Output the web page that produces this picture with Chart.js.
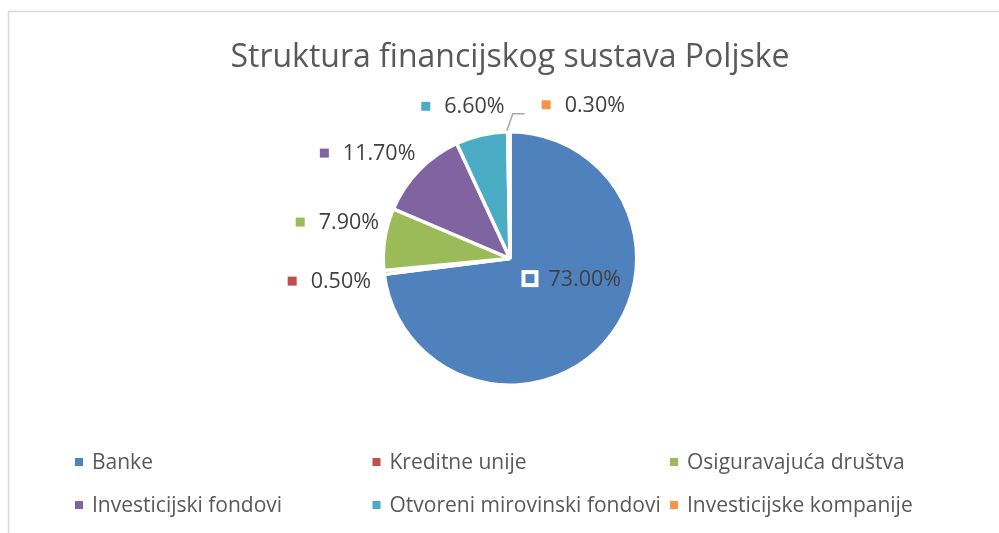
<!DOCTYPE html>
<html>
<head>
<meta charset="utf-8">
<script src="https://cdn.jsdelivr.net/npm/chart.js@4"></script>
<style>
  html, body { margin: 0; padding: 0; background: #fff; }
  #wrap { width: 999px; height: 533px; }
</style>
</head>
<body>
<div id="wrap"><canvas id="pieChart" width="999" height="533"></canvas></div>
<script>
// data
const categories = ['Banke', 'Kreditne unije', 'Osiguravajuća društva', 'Investicijski fondovi', 'Otvoreni mirovinski fondovi', 'Investicijske kompanije'];
const shares = [73.0, 0.5, 7.9, 11.7, 6.6, 0.3];
const sliceColors = ['#4F81BD', '#C0504D', '#9BBB59', '#8064A2', '#4BACC6', '#F79646'];
const chartTitle = 'Struktura financijskog sustava Poljske';

const FONT = '"Open Sans", "Noto Sans", sans-serif';

// label nudges (layout only), in px from the default anchor
const labelNudge = { 0: [9, -26], 1: [-5, 3], 2: [2, -9], 3: [-16, 19], 4: [-9, 22], 5: [73, 25] };
const leaderFor = { 5: true };

// frame + title
const framePlugin = {
  id: 'frame',
  beforeDraw(chart) {
    const ctx = chart.ctx;
    ctx.save();
    ctx.fillStyle = '#fff';
    ctx.fillRect(0, 0, chart.width, chart.height);
    ctx.strokeStyle = '#d9d9d9';
    ctx.lineWidth = 1.5;
    ctx.strokeRect(8.5, 11.5, chart.width + 20, chart.height + 20);
    ctx.fillStyle = '#595959';
    ctx.font = '32px ' + FONT;
    ctx.textAlign = 'center';
    ctx.textBaseline = 'middle';
    ctx.fillText(chartTitle, 510, 58);
    ctx.restore();
  }
};

// data labels with a colour square in front
const sliceLabels = {
  id: 'sliceLabels',
  afterDatasetsDraw(chart) {
    const ctx = chart.ctx;
    const meta = chart.getDatasetMeta(0);
    ctx.save();
    ctx.font = '21.5px ' + FONT;
    ctx.textBaseline = 'middle';
    meta.data.forEach((arc, i) => {
      const p = arc.getProps(['x', 'y', 'startAngle', 'endAngle', 'outerRadius'], true);
      const mid = (p.startAngle + p.endAngle) / 2;
      const inside = i === 0;
      const dist = inside ? p.outerRadius * 0.55 : p.outerRadius + 52;
      const nud = labelNudge[i] || [0, 0];
      const cx = p.x + Math.cos(mid) * dist + nud[0];
      const cy = p.y + Math.sin(mid) * dist + nud[1];
      const text = shares[i].toFixed(2) + '%';
      const tw = ctx.measureText(text).width;
      const boxW = 17 + 10 + tw;
      const left = cx - boxW / 2;

      // marker
      ctx.fillStyle = sliceColors[i];
      ctx.fillRect(left + 2, cy - 6.5, 13, 13);
      ctx.strokeStyle = '#fff';
      ctx.lineWidth = 4;
      ctx.strokeRect(left + 2, cy - 6.5, 13, 13);

      ctx.fillStyle = '#404040';
      ctx.textAlign = 'left';
      ctx.fillText(text, left + 27, cy + 1);

      if (leaderFor[i]) {
        const sx = p.x + Math.cos(mid) * (p.outerRadius + 1);
        const sy = p.y + Math.sin(mid) * (p.outerRadius + 1);
        const hy = cy + 9;
        ctx.strokeStyle = '#a6a6a6';
        ctx.lineWidth = 1.5;
        ctx.beginPath();
        ctx.moveTo(sx - 2, sy);
        ctx.lineTo(sx + 4, hy);
        ctx.lineTo(left - 13, hy);
        ctx.stroke();
      }
    });
    ctx.restore();
  }
};

// legend in three columns
const columnLegend = {
  id: 'columnLegend',
  afterDraw(chart) {
    const ctx = chart.ctx;
    const colX = 75, colW = 297.5, rowY = 462, rowH = 43;
    ctx.save();
    ctx.font = '21px ' + FONT;
    ctx.textBaseline = 'middle';
    ctx.textAlign = 'left';
    categories.forEach((name, i) => {
      const x = colX + (i % 3) * colW;
      const y = rowY + Math.floor(i / 3) * rowH;
      ctx.fillStyle = sliceColors[i];
      ctx.fillRect(x, y - 4, 8, 8);
      ctx.fillStyle = '#595959';
      ctx.fillText(name, x + 17, y + 1);
    });
    ctx.restore();
  }
};

const ctx = document.getElementById('pieChart').getContext('2d');
new Chart(ctx, {
  type: 'pie',
  data: {
    labels: categories,
    datasets: [{
      data: shares,
      backgroundColor: sliceColors,
      borderColor: '#ffffff',
      borderWidth: 3.5
    }]
  },
  options: {
    responsive: false,
    animation: false,
    layout: { padding: { left: 300, right: 279, top: 130, bottom: 146 } },
    plugins: {
      legend: { display: false },
      title: { display: false },
      tooltip: { enabled: false }
    }
  },
  plugins: [framePlugin, sliceLabels, columnLegend]
});
</script>
</body>
</html>
